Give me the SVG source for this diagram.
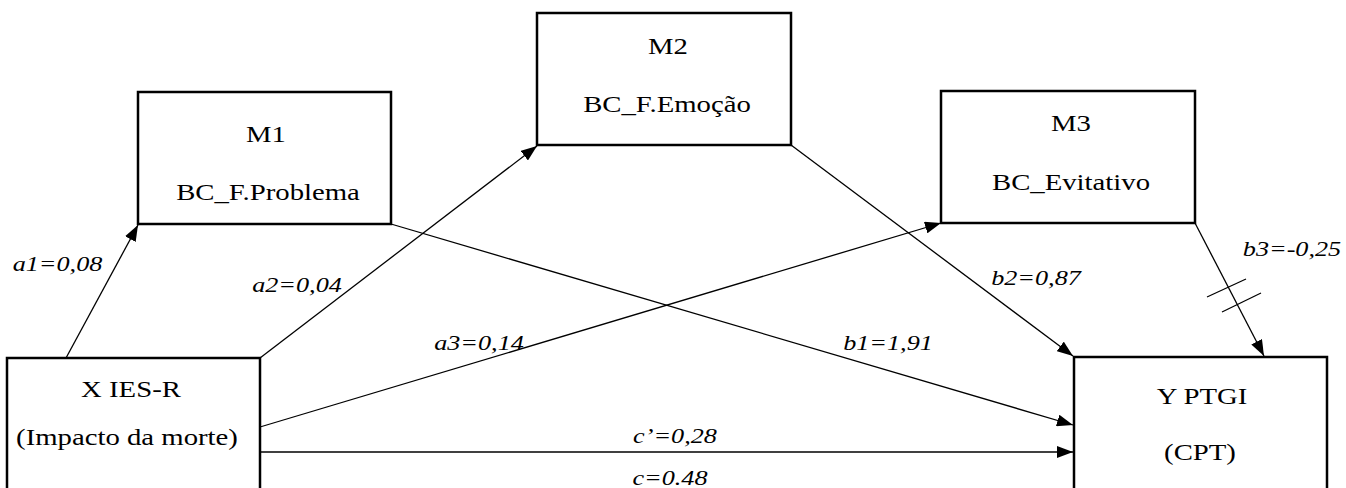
<svg xmlns="http://www.w3.org/2000/svg" width="1346" height="488" viewBox="0 0 1346 488">
<style>
.box{fill:#fff;stroke:#000;stroke-width:2.5}
.t{font-family:'Liberation Serif','Times New Roman',Times,serif;font-size:23px;fill:#000;text-anchor:middle}
.l{font-family:'Liberation Serif','Times New Roman',Times,serif;font-size:22px;font-style:italic;fill:#000;text-anchor:middle}
.c{stroke:#000;stroke-width:1.3;fill:none}
</style>
<defs>
<marker id="ah" viewBox="0 0 16 12" refX="16" refY="6" markerWidth="16" markerHeight="12" markerUnits="userSpaceOnUse" orient="auto">
<path d="M0,0 L16,6 L0,12 Z" fill="#000"/>
</marker>
</defs>
<rect width="1346" height="488" fill="#fff"/>
<g id="connectors">
<line class="c" x1="66" y1="358" x2="138" y2="225" marker-end="url(#ah)"/>
<line class="c" x1="260" y1="358" x2="537" y2="146" marker-end="url(#ah)"/>
<line class="c" x1="260" y1="427" x2="941" y2="223" marker-end="url(#ah)"/>
<line class="c" x1="260" y1="452" x2="1073" y2="452" marker-end="url(#ah)"/>
<line class="c" x1="391" y1="224" x2="1073" y2="425" marker-end="url(#ah)"/>
<line class="c" x1="791" y1="145" x2="1073" y2="356" marker-end="url(#ah)"/>
<line class="c" x1="1195" y1="223" x2="1264" y2="356" marker-end="url(#ah)"/>
<line class="c" x1="1207" y1="297" x2="1246" y2="279"/>
<line class="c" x1="1222" y1="312" x2="1261" y2="293"/>
<text class="l" transform="translate(57.5,271) scale(1.19,1)">a1=0,08</text>
<text class="l" transform="translate(297,292) scale(1.19,1)">a2=0,04</text>
<text class="l" transform="translate(479,350) scale(1.19,1)">a3=0,14</text>
<text class="l" transform="translate(888,350) scale(1.19,1)">b1=1,91</text>
<text class="l" transform="translate(1036,285) scale(1.19,1)">b2=0,87</text>
<text class="l" transform="translate(1292,256) scale(1.19,1)">b3=-0,25</text>
<text class="l" transform="translate(675,443) scale(1.19,1)">c’=0,28</text>
<text class="l" transform="translate(670,485) scale(1.19,1)">c=0.48</text>
</g>
<g id="M1">
<rect class="box" x="138" y="92" width="253" height="132"/>
<text class="t" transform="translate(266,142) scale(1.25,1)">M1</text>
<text class="t" transform="translate(268,200) scale(1.25,1)">BC_F.Problema</text>
</g>
<g id="M2">
<rect class="box" x="537" y="13" width="254" height="132"/>
<text class="t" transform="translate(668,54) scale(1.25,1)">M2</text>
<text class="t" transform="translate(667,112) scale(1.25,1)">BC_F.Emoção</text>
</g>
<g id="M3">
<rect class="box" x="941" y="91" width="254" height="132"/>
<text class="t" transform="translate(1071,131) scale(1.25,1)">M3</text>
<text class="t" transform="translate(1071,190) scale(1.25,1)">BC_Evitativo</text>
</g>
<g id="X">
<rect class="box" x="7" y="358" width="253" height="150"/>
<text class="t" transform="translate(131,397) scale(1.25,1)">X IES-R</text>
<text class="t" transform="translate(127,445) scale(1.25,1)">(Impacto da morte)</text>
</g>
<g id="Y">
<rect class="box" x="1074" y="357" width="253" height="150"/>
<text class="t" transform="translate(1202,404) scale(1.25,1)">Y PTGI</text>
<text class="t" transform="translate(1200,460) scale(1.25,1)">(CPT)</text>
</g>
</svg>
